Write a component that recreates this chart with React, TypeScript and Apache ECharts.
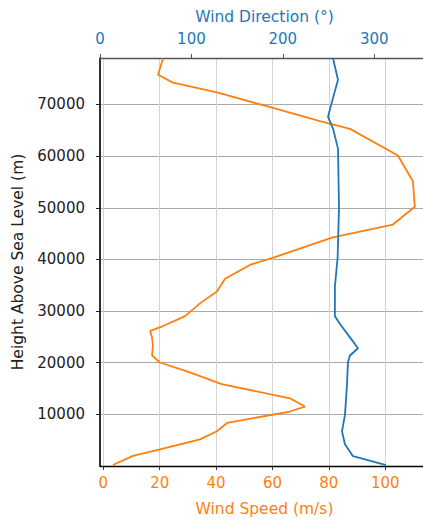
import React, { useEffect, useRef } from "react";
import * as echarts from "echarts";

// Wind speed profile (m/s) vs height (m)
const speedHeights = [190, 1970, 3240, 5150, 6740, 8340, 10550, 11510, 13110, 15840, 18130, 20040, 21370, 23280, 24810, 26150, 27100, 29010, 31490, 33780, 36260, 38930, 40460, 44270, 46760, 50190, 55150, 60110, 65270, 66790, 69660, 72330, 74240, 75760, 78900];
const speedValues = [3.4, 10.5, 20.1, 34.3, 40.3, 43.9, 66.2, 71.5, 66.2, 42, 30.7, 20.1, 17.3, 17.6, 17.3, 16.6, 21.2, 29, 34.3, 40.3, 43.2, 52, 60.9, 81.4, 102.7, 110.5, 109.8, 104.5, 87.5, 76.8, 58, 40.3, 24.7, 19.4, 21.2];

// Wind direction profile (deg) vs height (m)
const dirHeights = [190, 1900, 4200, 6700, 9900, 15600, 20100, 21400, 22800, 24900, 27500, 29000, 34700, 40400, 50100, 61450, 65300, 67600, 69100, 74800, 78900];
const dirValues = [313, 276.8, 268, 264.8, 268, 270.2, 271.3, 273.5, 282.3, 273.5, 262.6, 257, 257, 260, 261.5, 260.4, 255, 249.5, 251.6, 260.4, 255];

const heightTicks = { min: 0, max: 79000, interval: 10000 };
const speedRange = { min: -1.17, max: 113.4 };
const dirRange = { min: 0, max: 353.4, interval: 100 };

const BLUE = "#1f77b4";
const ORANGE = "#ff7f0e";
const FONT = "DejaVu Sans";

export default function App() {
  const ref = useRef<HTMLDivElement>(null);
  useEffect(() => {
    document.body.style.margin = "0";
    const chart = echarts.init(ref.current!, null, { renderer: "svg" });
    const speedData = speedValues.map((v, i) => [v, speedHeights[i]]);
    const dirData = dirValues.map((v, i) => [v, dirHeights[i]]);
    chart.setOption({
      animation: false,
      textStyle: { fontFamily: FONT },
      grid: { left: 100, right: 0, top: 58, bottom: 50, containLabel: false },
      xAxis: [
        {
          type: "value",
          position: "bottom",
          min: speedRange.min,
          max: speedRange.max,
          name: "Wind Speed (m/s)",
          nameLocation: "middle",
          nameGap: 35,
          nameTextStyle: { color: ORANGE, fontSize: 15.5, fontFamily: FONT, padding: [0, 0, 0, 6] },
          axisLine: { show: true, onZero: false, lineStyle: { color: "#000", width: 1.3 } },
          axisTick: { show: true, length: 4, lineStyle: { color: "#333" } },
          axisLabel: { color: ORANGE, fontSize: 15, fontFamily: FONT, margin: 9, showMinLabel: false, showMaxLabel: false },
          splitLine: { show: true, lineStyle: { color: "#d3d3d3", width: 1 } },
        },
        {
          type: "value",
          position: "top",
          min: dirRange.min,
          max: dirRange.max,
          interval: dirRange.interval,
          name: "Wind Direction (°)",
          nameLocation: "middle",
          nameGap: 33,
          nameTextStyle: { color: BLUE, fontSize: 15.5, fontFamily: FONT, padding: [0, 0, 0, 6] },
          axisLine: { show: true, onZero: false, lineStyle: { color: "#555", width: 1.3 } },
          axisTick: { show: true, length: 4, lineStyle: { color: "#555" } },
          axisLabel: { color: BLUE, fontSize: 15, fontFamily: FONT, margin: 12, showMinLabel: true, showMaxLabel: false },
          splitLine: { show: false },
        },
      ],
      yAxis: {
        type: "value",
        min: heightTicks.min,
        max: heightTicks.max,
        interval: heightTicks.interval,
        name: "Height Above Sea Level (m)",
        nameLocation: "middle",
        nameGap: 74,
        nameTextStyle: { color: "#222", fontSize: 15.5, fontFamily: FONT },
        axisLine: { show: true, onZero: false, lineStyle: { color: "#000", width: 1.6 } },
        axisTick: { show: true, length: 4, lineStyle: { color: "#222" } },
        axisLabel: {
          color: "#222",
          fontSize: 15,
          fontFamily: FONT,
          margin: 15,
          showMinLabel: false,
          showMaxLabel: false,
          formatter: (v: number) => String(v),
        },
        splitLine: { show: true, lineStyle: { color: "#aaaaaa", width: 1 } },
      },
      series: [
        {
          type: "line",
          name: "Wind Speed",
          xAxisIndex: 0,
          yAxisIndex: 0,
          data: speedData,
          showSymbol: false,
          symbol: "none",
          lineStyle: { color: ORANGE, width: 1.8 },
          z: 3,
        },
        {
          type: "line",
          name: "Wind Direction",
          xAxisIndex: 1,
          yAxisIndex: 0,
          data: dirData,
          showSymbol: false,
          symbol: "none",
          lineStyle: { color: BLUE, width: 1.8 },
          z: 4,
        },
      ],
    });
    return () => chart.dispose();
  }, []);
  return <div ref={ref} style={{ width: 423, height: 522 }} />;
}
